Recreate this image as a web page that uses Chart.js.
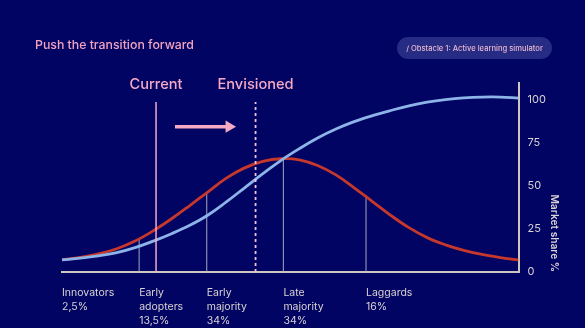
<!DOCTYPE html>
<html>
<head>
<meta charset="utf-8">
<script src="https://cdn.jsdelivr.net/npm/chart.js@4"></script>
<style>
  html, body { margin: 0; padding: 0; background: #010462; }
  #wrap { width: 585px; height: 328px; position: relative; }
</style>
</head>
<body>
<div id="wrap"><canvas id="c" width="585" height="328"></canvas></div>
<script>
// ---- data ----
const xs = [0, 4, 8, 12, 16, 20, 24, 28, 32, 36, 40, 44, 48, 52, 56, 60, 64, 68, 72, 76, 80, 84, 88, 92, 96, 100];
const adoption = [7.2, 8.5, 10.5, 13.5, 18.0, 24.0, 31.0, 38.7, 46.7, 54.6, 60.6, 64.4, 65.9, 65.3, 62.0, 56.5, 49.0, 41.0, 33.0, 25.8, 20.0, 15.8, 12.6, 10.2, 8.4, 7.0];
const marketShare = [7.0, 8.1, 9.4, 11.3, 14.2, 18.0, 22.3, 27.2, 33.2, 40.8, 49.0, 57.2, 65.0, 71.8, 78.0, 83.2, 87.5, 91.0, 94.0, 96.7, 98.8, 100.3, 101.3, 101.8, 101.8, 101.2];
const dividerX = [16.9, 31.7, 48.5, 66.6];
const dividerTop = [19.2, 46.3, 66.0, 44.5];
const tickX = [0, 16.9, 31.7, 48.5, 66.6];
const tickLabels = [["Innovators", "2,5%"], ["Early", "adopters", "13,5%"], ["Early", "majority", "34%"], ["Late", "majority", "34%"], ["Laggards", "16%"]];
const yTicks = [0, 25, 50, 75, 100];
const currentX = 20.6;
const envisionedX = 42.4;
const markerTop = 99;
const arrowX = [24.75, 36.2];
const arrowHeadX = 36.6;
const arrowY = 84.6;
const titleText = "Push the transition forward";
const badgeText = "/ Obstacle 1: Active learning simulator";
const yTitle = "Market share %";

const FONT = "Inter, 'Noto Sans', sans-serif";
const RED = '#c6372c';
const BLUE = '#8db4e8';
const PINK = '#f6a9c5';
const TXT = '#d9d3d3';
const AXIS = '#cfc6bf';

const pts = (arr) => xs.map((x, i) => ({x, y: arr[i]}));

const datasets = [];
dividerX.forEach((x, i) => {
  datasets.push({ data: [{x, y: 0}, {x, y: dividerTop[i]}], borderColor: 'rgba(185,185,200,0.75)', borderWidth: 1.2, pointRadius: 0, tension: 0, order: 5 });
});
datasets.push({ data: pts(adoption), borderColor: RED, borderWidth: 2.8, pointRadius: 0, tension: 0.4, order: 4 });
datasets.push({ data: pts(marketShare), borderColor: BLUE, borderWidth: 2.8, pointRadius: 0, tension: 0.4, order: 3 });
datasets.push({ data: [{x: currentX, y: 0}, {x: currentX, y: markerTop}], borderColor: PINK, borderWidth: 1.5, pointRadius: 0, tension: 0, order: 2 });
datasets.push({ data: [{x: envisionedX, y: 0}, {x: envisionedX, y: markerTop}], borderColor: '#f3c0d8', borderWidth: 1.8, borderDash: [3, 3], pointRadius: 0, tension: 0, order: 2 });
datasets.push({ data: [{x: arrowX[0], y: arrowY}, {x: arrowX[1], y: arrowY}], borderColor: PINK, borderWidth: 3.5, pointRadius: 0, tension: 0, order: 1 });
datasets.push({ data: [{x: arrowHeadX, y: arrowY}], showLine: false, pointStyle: 'triangle', pointRotation: 90, pointRadius: 7, pointBackgroundColor: PINK, pointBorderWidth: 0, order: 1 });

const decor = {
  id: 'decor',
  beforeDraw(chart) {
    const ctx = chart.ctx;
    ctx.save();
    ctx.fillStyle = '#010462';
    ctx.fillRect(0, 0, chart.width, chart.height);
    // title
    ctx.fillStyle = '#f4a3bf';
    ctx.font = "500 12.3px " + FONT;
    ctx.textBaseline = 'middle';
    ctx.textAlign = 'left';
    ctx.fillText(titleText, 35, 45);
    // badge
    const bx = 397, by = 37, bw = 155, bh = 22, r = 11;
    ctx.fillStyle = '#262b84';
    ctx.beginPath();
    ctx.moveTo(bx + r, by);
    ctx.lineTo(bx + bw - r, by);
    ctx.arc(bx + bw - r, by + r, r, -Math.PI / 2, Math.PI / 2);
    ctx.lineTo(bx + r, by + bh);
    ctx.arc(bx + r, by + r, r, Math.PI / 2, Math.PI * 1.5);
    ctx.closePath();
    ctx.fill();
    ctx.fillStyle = '#e9b6cf';
    ctx.font = "500 7.6px " + FONT;
    ctx.textAlign = 'center';
    ctx.fillText(badgeText, bx + bw / 2, by + bh / 2 + 0.5);
    ctx.restore();
  },
  afterDraw(chart) {
    const ctx = chart.ctx;
    const sx = chart.scales.x, sy = chart.scales.y;
    ctx.save();
    ctx.fillStyle = PINK;
    ctx.font = "500 14.6px " + FONT;
    ctx.textAlign = 'center';
    ctx.textBaseline = 'middle';
    const top = sy.getPixelForValue(markerTop);
    ctx.fillText('Current', sx.getPixelForValue(currentX), top - 17);
    ctx.fillText('Envisioned', sx.getPixelForValue(envisionedX), top - 17);
    ctx.restore();
  }
};

new Chart(document.getElementById('c'), {
  type: 'line',
  data: { datasets },
  options: {
    responsive: false,
    animation: false,
    devicePixelRatio: 1,
    layout: { padding: { left: 62, top: 83, right: 0, bottom: 0 } },
    plugins: { legend: { display: false }, tooltip: { enabled: false } },
    elements: { line: { borderCapStyle: 'butt' } },
    scales: {
      x: {
        type: 'linear', min: 0, max: 100,
        grid: { display: false, drawTicks: false },
        border: { display: true, color: AXIS, width: 2 },
        afterBuildTicks: (s) => { s.ticks = tickX.map(v => ({value: v})); },
        afterFit: (s) => { s.height = 56; },
        ticks: {
          autoSkip: false, maxRotation: 0, minRotation: 0, align: 'start', padding: 14,
          color: TXT, font: { family: FONT, size: 10.5, lineHeight: 1.33 },
          callback: (v, i) => tickLabels[i]
        }
      },
      y: {
        position: 'right', min: 0, max: 110,
        grid: { display: false, drawTicks: false },
        border: { display: true, color: AXIS, width: 2 },
        afterBuildTicks: (s) => { s.ticks = yTicks.map(v => ({value: v})); },
        afterFit: (s) => { s.width = 66.5; },
        ticks: { padding: 9, color: TXT, font: { family: FONT, size: 11 } },
        title: { display: true, text: yTitle, align: 'start', color: TXT, font: { family: FONT, size: 10.2, weight: '600' }, padding: { top: 25, bottom: 0 } }
      }
    }
  },
  plugins: [decor]
});
</script>
</body>
</html>
